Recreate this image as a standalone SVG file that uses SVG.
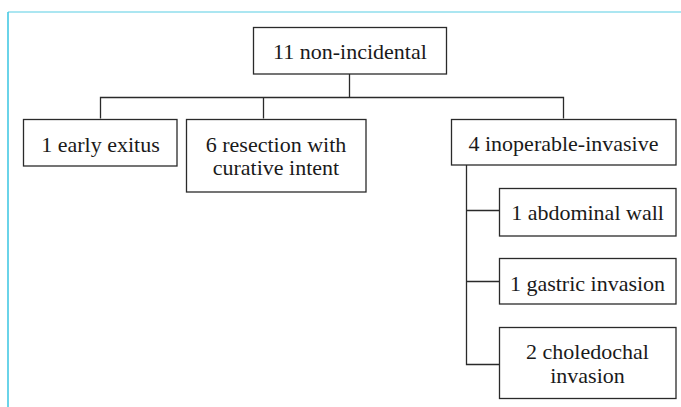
<svg xmlns="http://www.w3.org/2000/svg" width="681" height="407" viewBox="0 0 681 407">
<style>
  .box { fill: #ffffff; stroke: #2a2a2a; stroke-width: 1.3; }
  .lbl { font-family: "Liberation Serif", "Times New Roman", serif; font-size: 22px; fill: #1a1a1a; text-anchor: middle; }
  .conn { fill: none; stroke: #2a2a2a; stroke-width: 1.3; }
</style>
<rect x="0" y="0" width="681" height="407" fill="#ffffff"/>
<g id="frame">
  <line x1="8" y1="12" x2="681" y2="12" stroke="#8fdeed" stroke-width="1.6"/>
  <line x1="8" y1="12" x2="8" y2="407" stroke="#45c9e4" stroke-width="1.6"/>
</g>
<g id="connectors">
  <path class="conn" d="M349.5,74 V97.5 M100.5,118.5 V97.5 H563.5 V118.5 M263.5,97.5 V118.5"/>
  <path class="conn" d="M466.5,165 V364.5 H499 M466.5,210.5 H499 M466.5,281.5 H499"/>
</g>
<g id="n-root">
  <rect class="box" x="253.5" y="27.5" width="193" height="46.5"/>
  <text class="lbl" x="350" y="59">11 non-incidental</text>
</g>
<g id="n-early">
  <rect class="box" x="23.5" y="119.5" width="153.5" height="46.5"/>
  <text class="lbl" x="100.5" y="152">1 early exitus</text>
</g>
<g id="n-resection">
  <rect class="box" x="186.5" y="119.5" width="179.5" height="72.5"/>
  <text class="lbl" x="276" y="152">6 resection with</text>
  <text class="lbl" x="276" y="175">curative intent</text>
</g>
<g id="n-inoperable">
  <rect class="box" x="451.5" y="119.5" width="224.5" height="45.5"/>
  <text class="lbl" x="563.5" y="151">4 inoperable-invasive</text>
</g>
<g id="n-abdominal">
  <rect class="box" x="499.5" y="188.5" width="176.5" height="47.5"/>
  <text class="lbl" x="587.5" y="220">1 abdominal wall</text>
</g>
<g id="n-gastric">
  <rect class="box" x="499.5" y="258.5" width="176.5" height="45.5"/>
  <text class="lbl" x="587.5" y="291">1 gastric invasion</text>
</g>
<g id="n-choledochal">
  <rect class="box" x="499.5" y="327.5" width="176.5" height="71"/>
  <text class="lbl" x="587.5" y="359">2 choledochal</text>
  <text class="lbl" x="587.5" y="383">invasion</text>
</g>
</svg>
